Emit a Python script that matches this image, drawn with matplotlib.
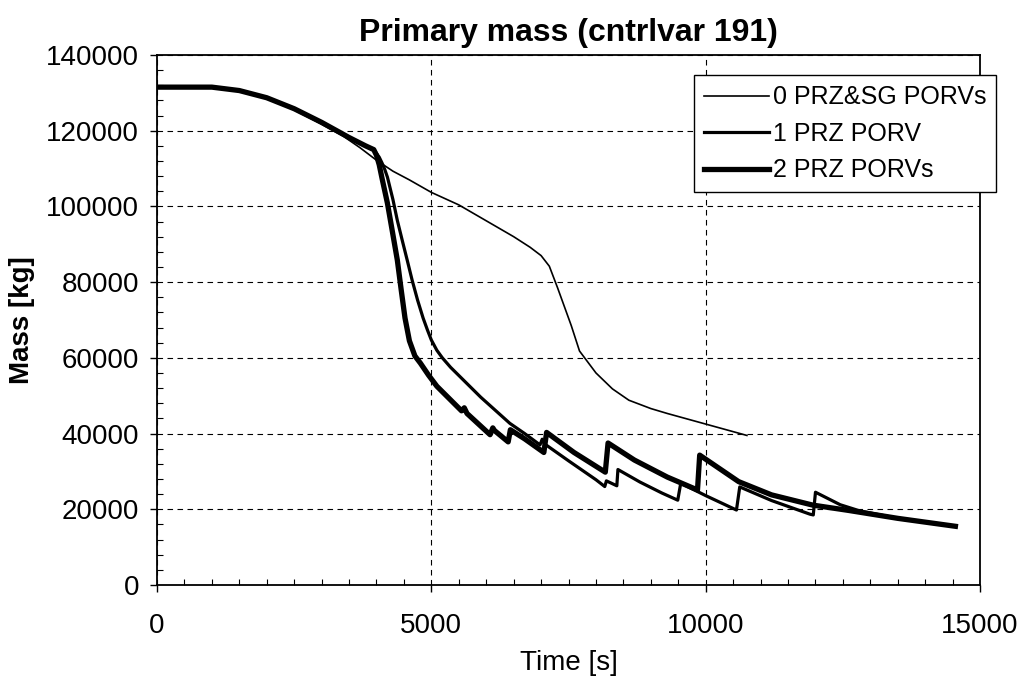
import matplotlib
matplotlib.use("Agg")
import matplotlib.pyplot as plt
from matplotlib.ticker import MultipleLocator

plt.rcParams["font.family"] = ["Liberation Sans", "DejaVu Sans"]

# 0 PRZ&SG PORVs
t0 = [0, 1000, 1500, 2000, 2500, 3000, 3400, 3700, 4000, 4300, 4600, 5000, 5500, 6000,
      6500, 6800, 7000, 7150, 7300, 7450, 7550, 7700, 8000, 8300, 8600, 9000, 9300,
      9600, 9950, 10300, 10750]
m0 = [131500, 131500, 130600, 128600, 125500, 121700, 118500, 115500, 112200, 109300,
      107000, 103700, 100400, 96200, 92000, 89200, 87000, 84200, 78500, 72500, 68500,
      61800, 56000, 51800, 48800, 46600, 45300, 44100, 42700, 41300, 39500]

# 1 PRZ PORV
t1 = [0, 1000, 1500, 2000, 2500, 3000, 3500, 3800, 3950, 4050, 4100, 4150, 4200, 4300,
      4380, 4470, 4560, 4650, 4750, 4850, 4930, 5000, 5100, 5200, 5350, 5900, 6430,
      6700, 6980, 7020, 7060, 7500, 8000, 8160, 8190, 8380, 8400, 8800, 9200, 9490,
      9545, 10000, 10560, 10620, 11200, 11900, 11960, 12000, 12450, 12800, 13500,
      14000, 14550]
m1 = [131500, 131500, 130600, 128700, 125800, 122200, 118200, 116000, 115000, 113000,
      111500, 109800, 107700, 101800, 96300, 91000, 85800, 80500, 75200, 70500, 67300,
      64700, 62000, 60000, 57500, 49600, 42700, 40000, 37000, 38500, 37300, 32800,
      27800, 26000, 27500, 26200, 30500, 27200, 24300, 22400, 26900, 23600, 19800,
      25900, 22300, 18700, 18500, 24500, 21200, 19600, 17600, 16600, 15500]

# 2 PRZ PORVs
t2 = [0, 1000, 1500, 2000, 2500, 3000, 3500, 3800, 3950, 4000, 4050, 4100, 4200, 4300,
      4380, 4450, 4520, 4600, 4700, 4800, 4950, 5100, 5550, 5600, 5650, 6070, 6120,
      6150, 6400, 6440, 6700, 7050, 7100, 7600, 8170, 8220, 8700, 9300, 9850, 9890,
      10600, 11200, 11950, 12600, 13500, 14000, 14550]
m2 = [131500, 131500, 130600, 128700, 125800, 122200, 118200, 116000, 115000, 113500,
      111000, 107500, 100800, 92500, 85800, 78000, 70500, 64500, 60500, 58600, 55400,
      52500, 46000, 46800, 45300, 39700, 41500, 40800, 37800, 41000, 38600, 35000,
      40300, 35000, 29800, 37500, 33000, 28500, 25100, 34300, 27300, 23800, 21100,
      19700, 17600, 16600, 15500]

fig = plt.figure(figsize=(10.22, 6.87), dpi=100)
ax = fig.add_axes([0.1536, 0.1485, 0.8054, 0.7715])

ax.plot(t0, m0, color="black", lw=1.2, label="0 PRZ&SG PORVs")
ax.plot(t1, m1, color="black", lw=2.3, label="1 PRZ PORV")
ax.plot(t2, m2, color="black", lw=3.8, label="2 PRZ PORVs")

ax.set_xlim(0, 15000)
ax.set_ylim(0, 140000)
ax.xaxis.set_major_locator(MultipleLocator(5000))
ax.xaxis.set_minor_locator(MultipleLocator(500))
ax.yaxis.set_major_locator(MultipleLocator(20000))
ax.yaxis.set_minor_locator(MultipleLocator(4000))
ax.tick_params(which="major", direction="out", length=5, width=1, labelsize=20)
ax.tick_params(axis="x", which="major", pad=15)
ax.tick_params(axis="y", which="major", pad=8)
ax.tick_params(which="minor", direction="in", length=4, width=0.8)
ax.grid(True, which="major", color="black", linestyle=(0, (5, 4)), lw=0.8)
for s in ax.spines.values():
    s.set_linewidth(1.3)

ax.set_title("Primary mass (cntrlvar 191)", fontsize=23, fontweight="bold", pad=10)
ax.set_xlabel("Time [s]", fontsize=20, labelpad=8)
ax.set_ylabel("Mass [kg]", fontsize=20, fontweight="bold", labelpad=8)

leg = ax.legend(loc="upper right", bbox_to_anchor=(1.035, 0.985), fontsize=18,
                frameon=True, fancybox=False, edgecolor="black", handlelength=2.6,
                handletextpad=0.15, borderpad=0.4, labelspacing=0.5)
leg.get_frame().set_linewidth(1.0)
leg.get_frame().set_alpha(1)

fig.savefig("out.png", dpi=100)
